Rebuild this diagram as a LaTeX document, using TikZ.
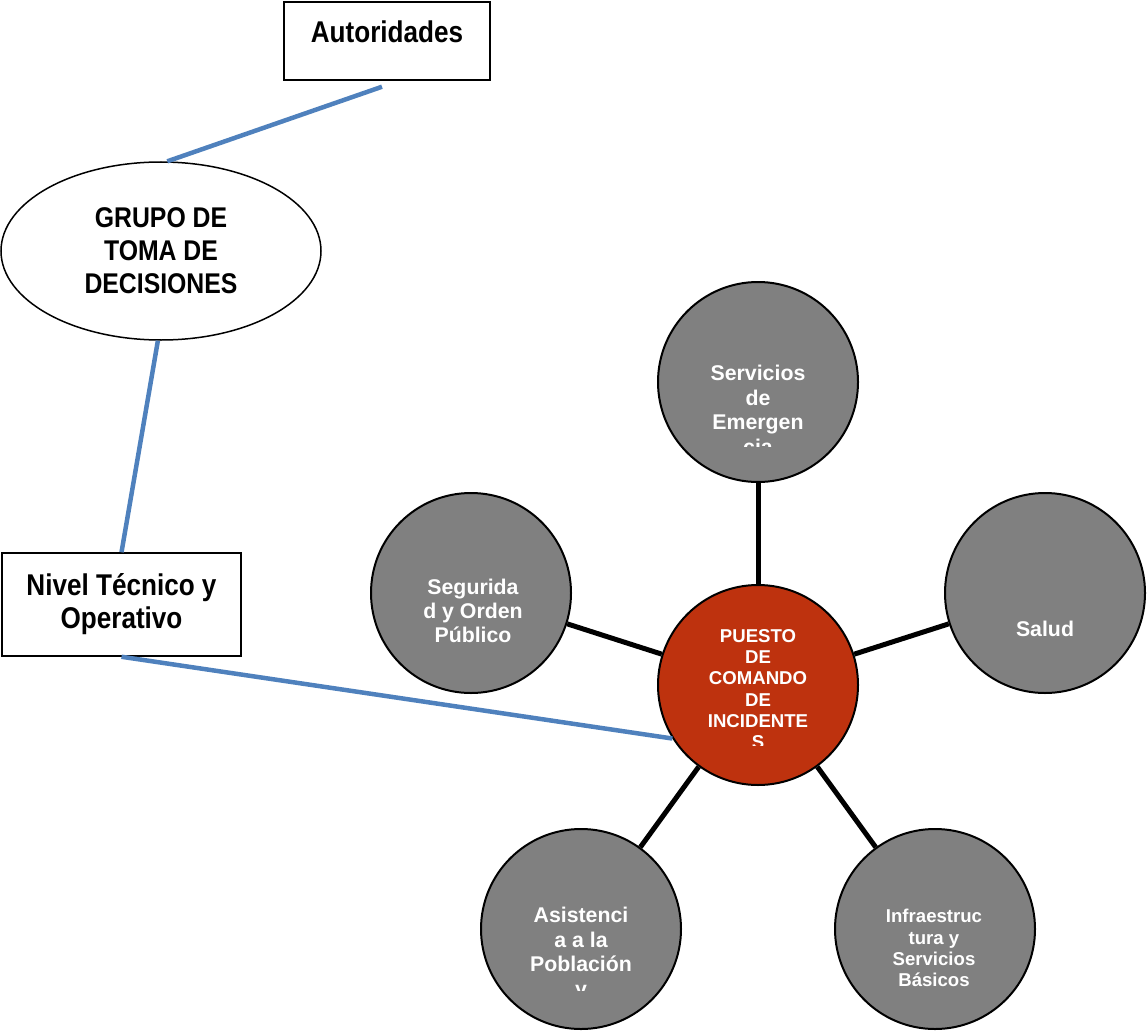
\documentclass[tikz,border=0pt]{standalone}
\usepackage{fontspec}
\setmainfont{Liberation Sans}
\newfontfamily\narrowf{Liberation Sans}[FakeStretch=0.87]
\usetikzlibrary{shapes.geometric,calc}
\definecolor{bluel}{RGB}{79,129,189}
\definecolor{grayc}{RGB}{128,128,128}
\definecolor{redc}{RGB}{190,50,14}
\begin{document}
\begin{tikzpicture}[x=1pt,y=-1pt,
  bigtxt/.style={font=\narrowf\bfseries\fontsize{30}{33}\selectfont},
  boxn/.style={draw, line width=1.5pt, rectangle, inner sep=0pt},
  circ/.style={circle, draw, line width=2pt, fill=grayc, minimum size=200pt, inner sep=0pt},
  ctext/.style={text=white, font=\bfseries\fontsize{21.3}{24.5}\selectfont, align=center, inner sep=0pt},
  stext/.style={text=white, font=\bfseries\fontsize{18.6}{21.2}\selectfont, align=center, inner sep=0pt},
  blueline/.style={draw=bluel, line width=4.5pt},
  blackline/.style={draw=black, line width=5pt}]
\useasboundingbox (0,0) rectangle (1147,1032);

% top part
\node[boxn, bigtxt, minimum width=206pt, minimum height=78pt, text height=22pt, text depth=18pt] (auto) at (387,41) {Autoridades};
\node[ellipse, draw, line width=1.5pt, minimum width=320pt, minimum height=178pt, inner sep=0pt,
      bigtxt, font=\narrowf\bfseries\fontsize{28.5}{33}\selectfont, align=center] (grupo) at (161,251) {GRUPO DE\\TOMA DE\\DECISIONES};
\node[boxn, bigtxt, align=center, minimum width=239pt, minimum height=103pt] (nivel) at (121.5,604.5) {Nivel Técnico y\\Operativo};

% circles
\node[circ] (serv) at (758,382) {};
\node[circ] (segu) at (471,593) {};
\node[circ] (salud) at (1045,593) {};
\node[circ, fill=redc] (pci) at (758,685) {};
\node[circ] (asis) at (581,929) {};
\node[circ] (infra) at (935,929) {};

% connectors
\coordinate (autoend) at ($(auto.south)+(-5,6)$);
\draw[blueline] (autoend) -- (grupo.86);
\draw[blueline] (grupo.268) -- (nivel.north);
\draw[blueline] (nivel.south) -- (pci.212);
\draw[blackline] (serv) -- (pci);
\draw[blackline] (segu) -- (pci);
\draw[blackline] (salud) -- (pci);
\draw[blackline] (asis) -- (pci);
\draw[blackline] (infra) -- (pci);

% circle texts
\begin{scope}
\clip (640,270) rectangle (880,446);
\node[ctext] (servt) at (758,410) {Servicios\\de\\Emergen\\cia};
\end{scope}
\node[ctext, font=\bfseries\fontsize{21.3}{24}\selectfont] (segut) at (473,611) {Segurida\\d y Orden\\Público};
\node[ctext] (saludt) at (1045,629) {Salud};
\begin{scope}
\clip (650,580) rectangle (870,745);
\node[stext] (pcit) at (758,689) {PUESTO\\DE\\COMANDO\\DE\\INCIDENTE\\S};
\end{scope}
\begin{scope}
\clip (470,820) rectangle (700,990);
\node[ctext] (asist) at (581,954) {Asistenci\\a a la\\Población\\y};
\end{scope}
\node[stext] (infrat) at (934,948) {Infraestruc\\tura y\\Servicios\\Básicos};
\end{tikzpicture}
\end{document}
